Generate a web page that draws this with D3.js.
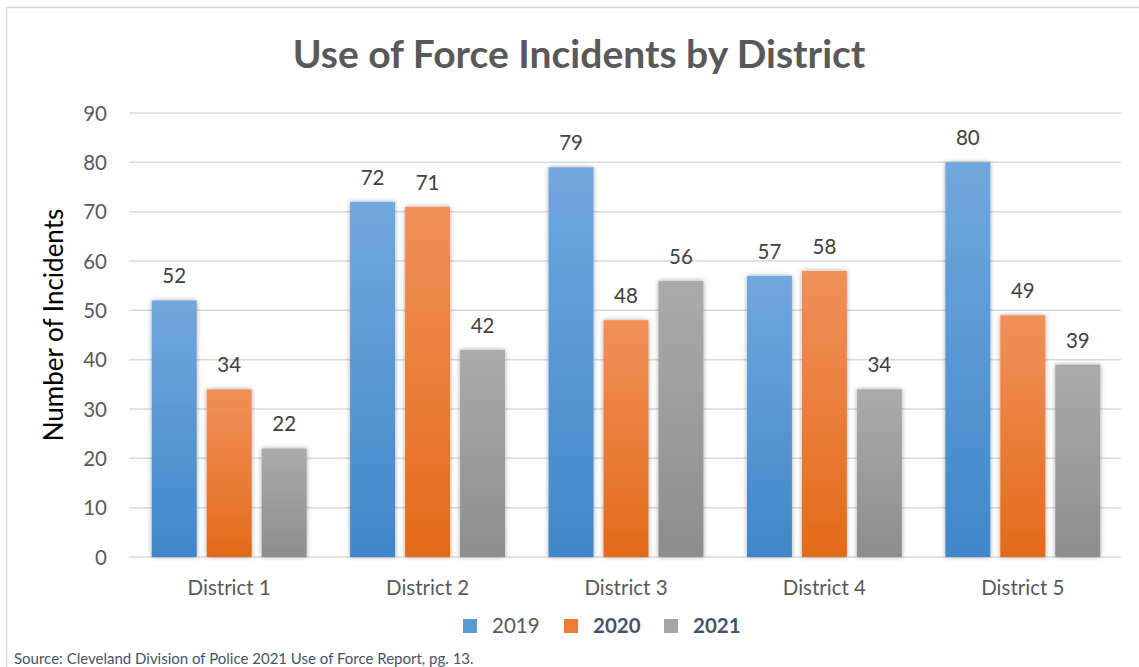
<!DOCTYPE html>
<html><head><meta charset="utf-8">
<script src="https://cdn.jsdelivr.net/npm/d3@7"></script>
<style>body{margin:0;background:#fff;}svg{display:block;font-family:Lato,"Open Sans",sans-serif;}</style>
</head><body>
<svg id="c" width="1139" height="667"></svg>
<script>
const categories = ["District 1","District 2","District 3","District 4","District 5"];
const seriesNames = ["2019","2020","2021"];
const values2019 = [52,72,79,57,80];
const values2020 = [34,71,48,58,49];
const values2021 = [22,42,56,34,39];
const yTicks = [0,10,20,30,40,50,60,70,80,90];
const title = "Use of Force Incidents by District";
const yLabel = "Number of Incidents";
const source = "Source: Cleveland Division of Police 2021 Use of Force Report, pg. 13.";

const series = [values2019, values2020, values2021];
const colors = [["#72a7dd","#3f87c9"],["#f1905a","#e36a18"],["#ababab","#8d8d8d"]];
const legendColors = ["#5b9bd5","#ed7d31","#a5a5a5"];

const svg = d3.select("#c");
const defs = svg.append("defs");
colors.forEach((c,i)=>{
  const g = defs.append("linearGradient").attr("id","g"+i).attr("x1",0).attr("y1",0).attr("x2",0).attr("y2",1);
  g.append("stop").attr("offset","0%").attr("stop-color",c[0]);
  g.append("stop").attr("offset","100%").attr("stop-color",c[1]);
});
const f = defs.append("filter").attr("id","sh").attr("x","-20%").attr("y","-10%").attr("width","140%").attr("height","120%");
f.append("feGaussianBlur").attr("in","SourceAlpha").attr("stdDeviation",2.5).attr("result","b");
f.append("feComponentTransfer").attr("in","b").attr("result","b2").append("feFuncA").attr("type","linear").attr("slope",0.35);
const m = f.append("feMerge"); m.append("feMergeNode").attr("in","b2"); m.append("feMergeNode").attr("in","SourceGraphic");

// chart border
svg.append("rect").attr("x",6.5).attr("y",7.5).attr("width",1140).attr("height",700).attr("fill","none").attr("stroke","#d9d9d9").attr("stroke-width",1.5);

const x0 = d3.scaleBand().domain(categories).range([130,1122]).paddingInner(0.2193).paddingOuter(0.1096);
const x1 = d3.scaleBand().domain(seriesNames).range([0,x0.bandwidth()]).paddingInner(0.1818);
const y = d3.scaleLinear().domain([0,90]).range([557,113]);

// grid
svg.append("g").selectAll("line").data(yTicks).join("line")
  .attr("x1",129).attr("x2",1121).attr("y1",d=>y(d)).attr("y2",d=>y(d))
  .attr("stroke","#d9d9d9").attr("stroke-width",1.5);

// y axis labels
const yAxis = d3.axisLeft(y).tickValues(yTicks).tickSize(0).tickPadding(0);
const ya = svg.append("g").attr("transform","translate(107,0)").call(yAxis);
ya.select(".domain").remove();
ya.selectAll("text").attr("font-size",20.5).attr("fill","#595959").attr("font-family","Lato,sans-serif").attr("dy","0.35em");

// x axis labels
const xAxis = d3.axisBottom(x0).tickSize(0).tickPadding(0);
const xa = svg.append("g").attr("transform","translate(0,588)").call(xAxis);
xa.select(".domain").remove();
xa.selectAll("text").attr("font-size",20.5).attr("fill","#595959").attr("font-family","Lato,sans-serif").attr("dy","0.35em");

// bars
series.forEach((vals,si)=>{
  const g = svg.append("g");
  g.selectAll("rect").data(vals).join("rect")
    .attr("x",(d,i)=>x0(categories[i])+x1(seriesNames[si]))
    .attr("y",d=>y(d)).attr("width",x1.bandwidth()).attr("height",d=>y(0)-y(d))
    .attr("fill","url(#g"+si+")").attr("filter","url(#sh)");
  g.selectAll("text").data(vals).join("text")
    .attr("x",(d,i)=>x0(categories[i])+x1(seriesNames[si])+x1.bandwidth()/2)
    .attr("y",d=>y(d)-17).attr("text-anchor","middle")
    .attr("font-size",20.5).attr("fill","#404040").text(d=>d);
});

// title
svg.append("text").attr("x",579).attr("y",68).attr("text-anchor","middle")
  .attr("font-size",39).attr("font-weight","bold").attr("fill","#595959").text(title);

// y label
svg.append("text").attr("transform","translate(63,325) rotate(-90)").attr("text-anchor","middle")
  .attr("font-size",26).attr("fill","#000").text(yLabel);

// legend
const legX = [463,564,664];
const lg = svg.append("g");
seriesNames.forEach((s,i)=>{
  lg.append("rect").attr("x",legX[i]).attr("y",619).attr("width",14).attr("height",14).attr("fill",legendColors[i]);
  lg.append("text").attr("x",legX[i]+29).attr("y",633).attr("font-size",20.5)
    .attr("font-weight",i===0?"normal":"bold").attr("fill",i===0?"#595959":"#44546a").text(s);
});

// source
svg.append("text").attr("x",14).attr("y",664).attr("font-size",15).attr("fill","#44546a").text(source);
</script>
</body></html>
